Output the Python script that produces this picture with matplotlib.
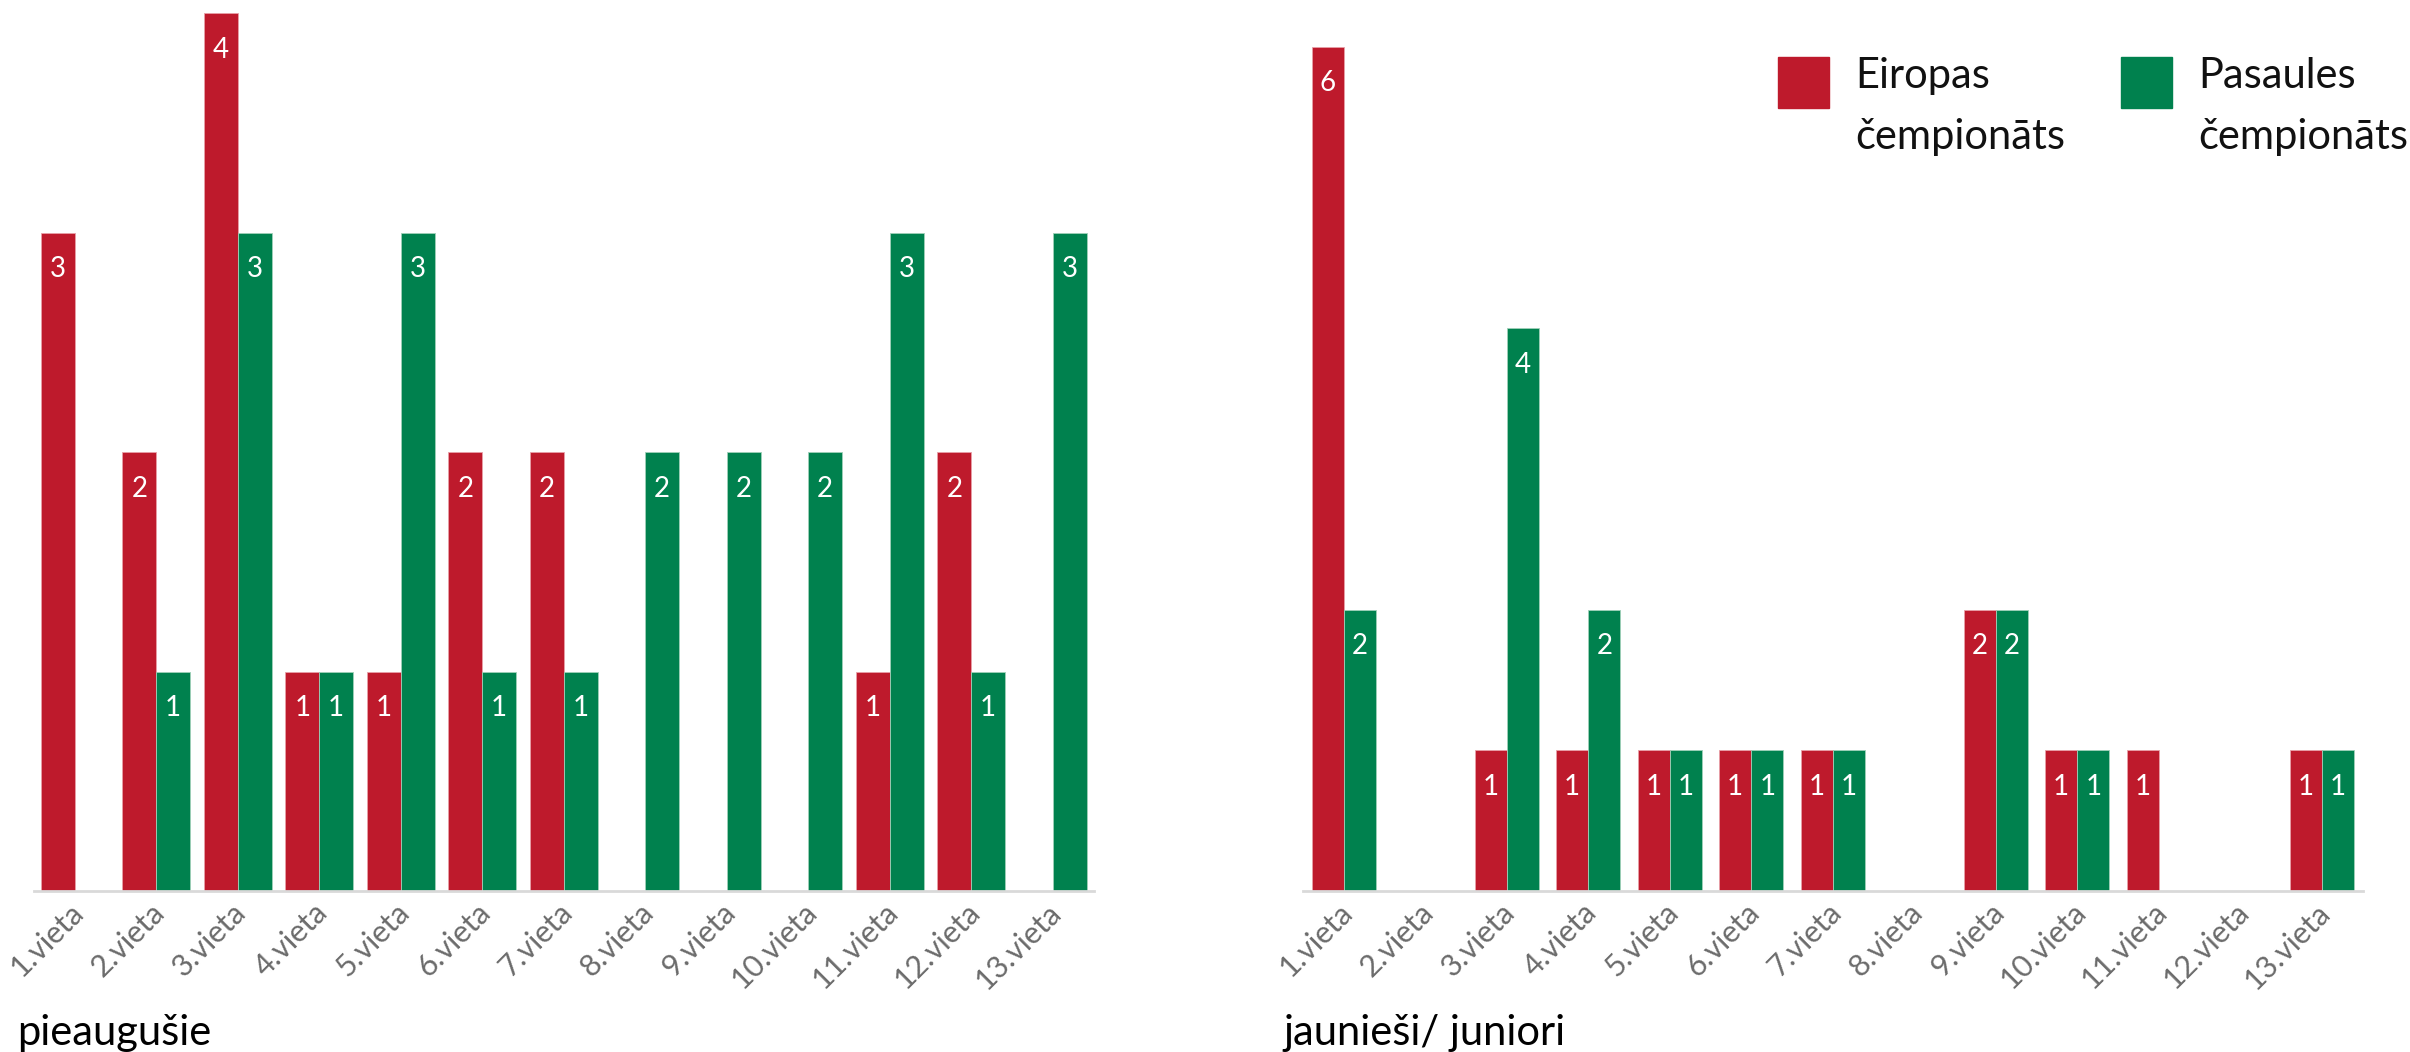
import matplotlib
matplotlib.use("Agg")
import matplotlib.pyplot as plt
from matplotlib.patches import Rectangle
from matplotlib.transforms import ScaledTranslation
import numpy as np

# Data
places = ["1.vieta", "2.vieta", "3.vieta", "4.vieta", "5.vieta", "6.vieta", "7.vieta",
          "8.vieta", "9.vieta", "10.vieta", "11.vieta", "12.vieta", "13.vieta"]
adult_eu = [3, 2, 4, 1, 1, 2, 2, 0, 0, 0, 1, 2, 0]
adult_world = [0, 1, 3, 1, 3, 1, 1, 2, 2, 2, 3, 1, 3]
junior_eu = [6, 0, 1, 1, 1, 1, 1, 0, 2, 1, 1, 0, 1]
junior_world = [2, 0, 4, 2, 1, 1, 1, 0, 2, 1, 0, 0, 1]
series_names = ["Eiropas\nčempionāts", "Pasaules\nčempionāts"]
panel_titles = ["pieaugušie", "jaunieši/ juniori"]

RED = "#be1a2c"
GREEN = "#00814e"
W, H = 2410, 1052

plt.rcParams["font.family"] = ["Lato", "DejaVu Sans"]

fig = plt.figure(figsize=(W / 100, H / 100), dpi=100)


def px(x0, y0, w, h):
    # pixel box (from top-left) -> figure fraction rect
    return [x0 / W, 1 - (y0 + h) / H, w / W, h / H]


def draw_panel(ax, eu, world, width, ytop):
    x = np.arange(len(places))
    b1 = ax.bar(x - width / 2, eu, width, color=RED, edgecolor="#e8a0a8", linewidth=0.6)
    b2 = ax.bar(x + width / 2, world, width, color=GREEN, edgecolor="#a0d0b8", linewidth=0.6)
    for bars, vals in ((b1, eu), (b2, world)):
        for rect, v in zip(bars, vals):
            if v == 0:
                continue
            ax.annotate(str(v), (rect.get_x() + rect.get_width() / 2, v),
                        xytext=(0, -17), textcoords="offset points",
                        ha="center", va="top", color="white", fontsize=20)
    ax.set_xlim(-0.5, len(places) - 0.5)
    ax.set_ylim(0, ytop)
    ax.set_xticks(x)
    ax.set_xticklabels(places, rotation=45, ha="right", rotation_mode="anchor",
                       fontsize=22, color="#6b6b6b")
    ax.tick_params(axis="x", length=0, pad=5)
    shift = ScaledTranslation(-0.06, 0, fig.dpi_scale_trans)
    for lab in ax.get_xticklabels():
        lab.set_transform(lab.get_transform() + shift)
    ax.set_yticks([])
    for s in ("top", "right", "left"):
        ax.spines[s].set_visible(False)
    ax.spines["bottom"].set_color("#d9d9d9")
    ax.spines["bottom"].set_linewidth(2)


ax1 = fig.add_axes(px(34, 13, 1059.5, 878))
draw_panel(ax1, adult_eu, adult_world, 0.417, 4.0)
ax2 = fig.add_axes(px(1303, 13, 1059.5, 878))
draw_panel(ax2, junior_eu, junior_world, 0.393, 6.24)

# panel captions
fig.text(17 / W, 1 - 1045 / H, panel_titles[0], fontsize=30, color="black", va="baseline")
fig.text(1283 / W, 1 - 1045 / H, panel_titles[1], fontsize=30, color="black", va="baseline")

# legend drawn by hand so the squares sit at the top of the two-line labels
for (sx, tx), color, name in zip(((1778, 1855), (2121, 2198)), (RED, GREEN), series_names):
    fig.patches.append(Rectangle((sx / W, 1 - 108 / H), 51 / W, 51 / H,
                                 transform=fig.transFigure, color=color))
    fig.text(tx / W, 1 - 57 / H, name, fontsize=30, color="#111111",
             va="top", linespacing=1.75)

fig.savefig("out.png", dpi=100)
